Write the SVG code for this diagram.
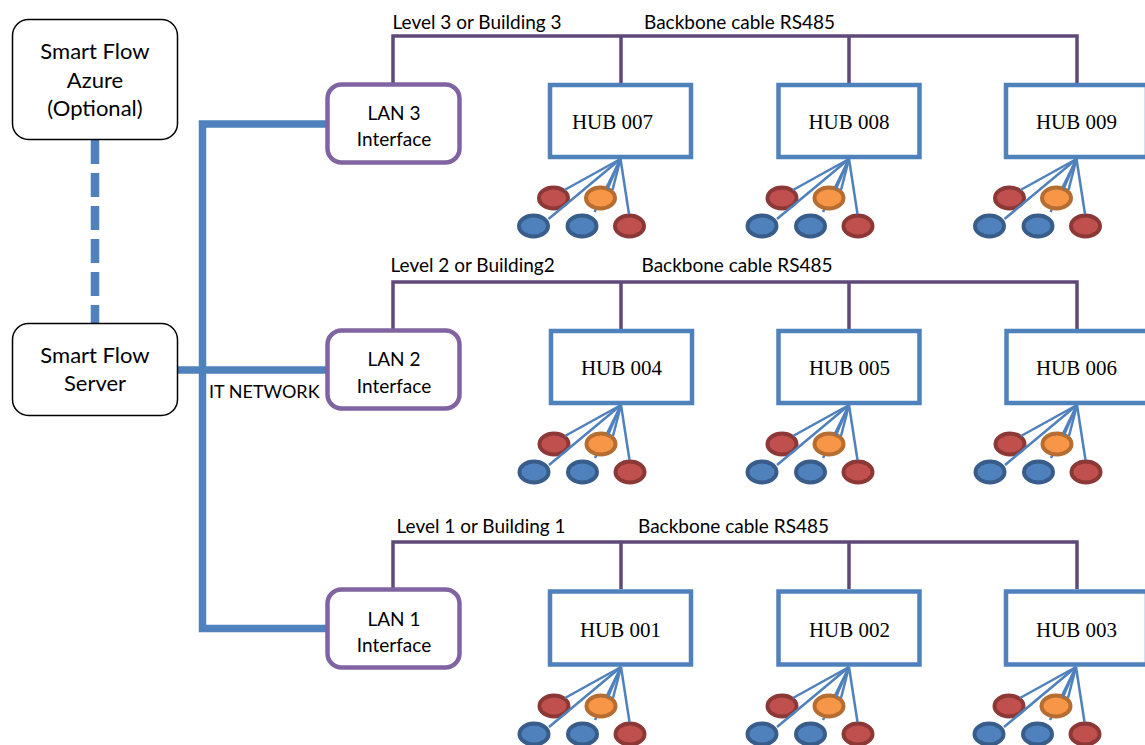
<svg xmlns="http://www.w3.org/2000/svg" xmlns:xlink="http://www.w3.org/1999/xlink" width="1145" height="745" viewBox="0 0 1145 745">
<style>
.t{font-family:Lato,"Liberation Sans",Arial,sans-serif;fill:#000}
.big{font-size:22px;text-anchor:middle}
.lan{font-size:19px;text-anchor:middle}
.lbl{font-size:19px}
.hubt{font-family:"Liberation Serif","Times New Roman",serif;font-size:21px;text-anchor:middle;fill:#000}
.sbox{fill:#fff;stroke:#000;stroke-width:1.5}
.lanbox{fill:#fff;stroke:#8064A2;stroke-width:4.5}
.hub{fill:#fff;stroke:#4F81BD;stroke-width:4.5}
.net{fill:none;stroke:#4F81BD;stroke-width:7.5}
.bb{fill:none;stroke:#5F497A;stroke-width:3.5}
.fl{stroke:#4F81BD;stroke-width:2.5;fill:none}
.er{fill:#C0504D;stroke:#8C3836;stroke-width:4}
.eo{fill:#F79646;stroke:#B66D31;stroke-width:4}
.eb{fill:#4F81BD;stroke:#385D8A;stroke-width:4}
</style>
<defs>
<g id="fan">
<line class="fl" x1="0" y1="0" x2="-26" y2="53"/>
<ellipse class="er" cx="-67" cy="39" rx="14.5" ry="10.5"/>
<ellipse class="eo" cx="-20" cy="39" rx="14.5" ry="10.5"/>
<ellipse class="eb" cx="-87" cy="67" rx="14.5" ry="10.5"/>
<ellipse class="eb" cx="-38.5" cy="67" rx="14.5" ry="10.5"/>
<ellipse class="er" cx="9" cy="67" rx="14.5" ry="10.5"/>
<line class="fl" x1="0" y1="0" x2="-56" y2="31"/>
<line class="fl" x1="0" y1="0" x2="-72" y2="60"/>
<line class="fl" x1="0" y1="0" x2="-13" y2="30"/>
<line class="fl" x1="0" y1="0" x2="-8" y2="31"/>
<line class="fl" x1="0" y1="0" x2="8.5" y2="55"/>
</g>
</defs>
<rect width="1145" height="745" fill="#fff"/>

<g id="connectors">
<line x1="95" y1="140" x2="95" y2="323" stroke="#4F81BD" stroke-width="8.5" stroke-dasharray="24 9"/>
<polyline class="net" points="327,124 202.5,124 202.5,628.5 327,628.5"/>
<line class="net" x1="178" y1="370" x2="327" y2="370"/>
<polyline class="bb" points="393,83 393,36 1077,36 1077,83"/>
<line class="bb" x1="621" y1="36" x2="621" y2="83"/>
<line class="bb" x1="849" y1="36" x2="849" y2="83"/>
<polyline class="bb" points="393,329 393,282 1077,282 1077,329"/>
<line class="bb" x1="621" y1="282" x2="621" y2="329"/>
<line class="bb" x1="849" y1="282" x2="849" y2="329"/>
<polyline class="bb" points="393,588 393,542 1077,542 1077,589"/>
<line class="bb" x1="621" y1="542" x2="621" y2="589"/>
<line class="bb" x1="849" y1="542" x2="849" y2="589"/>
</g>

<g id="labels">
<text class="t lbl" x="392.5" y="29">Level 3 or Building 3</text>
<text class="t lbl" x="644" y="29">Backbone cable RS485</text>
<text class="t lbl" x="390.5" y="272">Level 2 or Building2</text>
<text class="t lbl" x="641.5" y="272">Backbone cable RS485</text>
<text class="t lbl" x="396.5" y="533">Level 1 or Building 1</text>
<text class="t lbl" x="638" y="533">Backbone cable RS485</text>
<text class="t" x="209" y="398" style="font-size:18px">IT NETWORK</text>
</g>

<g id="azure">
<rect class="sbox" x="12.5" y="19.5" width="165" height="120" rx="16"/>
<text class="t big" x="95" y="59">Smart Flow</text>
<text class="t big" x="95" y="88">Azure</text>
<text class="t big" x="95" y="116">(Optional)</text>
</g>
<g id="server">
<rect class="sbox" x="12.5" y="323.5" width="165" height="92" rx="16"/>
<text class="t big" x="95" y="363">Smart Flow</text>
<text class="t big" x="95" y="391">Server</text>
</g>

<g id="lan3">
<rect class="lanbox" x="327.5" y="84.5" width="132" height="78" rx="14"/>
<text class="t lan" x="394" y="120">LAN 3</text>
<text class="t lan" x="394" y="146">Interface</text>
</g>
<g id="lan2">
<rect class="lanbox" x="327.5" y="330.5" width="132" height="78" rx="14"/>
<text class="t lan" x="394" y="366">LAN 2</text>
<text class="t lan" x="394" y="393">Interface</text>
</g>
<g id="lan1">
<rect class="lanbox" x="327.5" y="589.5" width="132" height="78" rx="14"/>
<text class="t lan" x="394" y="626">LAN 1</text>
<text class="t lan" x="394" y="652">Interface</text>
</g>

<g id="hub007">
<rect class="hub" x="550" y="85" width="141" height="72"/>
<text class="hubt" x="612.5" y="129">HUB 007</text>
<use xlink:href="#fan" transform="translate(620.5,159)"/>
</g>
<g id="hub008">
<rect class="hub" x="778.5" y="85" width="141" height="72"/>
<text class="hubt" x="849" y="129">HUB 008</text>
<use xlink:href="#fan" transform="translate(849,159)"/>
</g>
<g id="hub009">
<rect class="hub" x="1006" y="85" width="141" height="72"/>
<text class="hubt" x="1076.5" y="129">HUB 009</text>
<use xlink:href="#fan" transform="translate(1076.5,159)"/>
</g>

<g id="hub004">
<rect class="hub" x="551" y="331" width="141" height="72"/>
<text class="hubt" x="621.5" y="375">HUB 004</text>
<use xlink:href="#fan" transform="translate(621,405)"/>
</g>
<g id="hub005">
<rect class="hub" x="778.5" y="331" width="141" height="72"/>
<text class="hubt" x="849.5" y="375">HUB 005</text>
<use xlink:href="#fan" transform="translate(849,405)"/>
</g>
<g id="hub006">
<rect class="hub" x="1006.5" y="331" width="141" height="72"/>
<text class="hubt" x="1076.5" y="375">HUB 006</text>
<use xlink:href="#fan" transform="translate(1077,405)"/>
</g>

<g id="hub001">
<rect class="hub" x="550" y="591.5" width="141" height="73"/>
<text class="hubt" x="620.5" y="637">HUB 001</text>
<use xlink:href="#fan" transform="translate(621,667)"/>
</g>
<g id="hub002">
<rect class="hub" x="778.5" y="591.5" width="141" height="73"/>
<text class="hubt" x="849.5" y="637">HUB 002</text>
<use xlink:href="#fan" transform="translate(849,667)"/>
</g>
<g id="hub003">
<rect class="hub" x="1006" y="591.5" width="141" height="73"/>
<text class="hubt" x="1076.5" y="637">HUB 003</text>
<use xlink:href="#fan" transform="translate(1076,667)"/>
</g>
</svg>
